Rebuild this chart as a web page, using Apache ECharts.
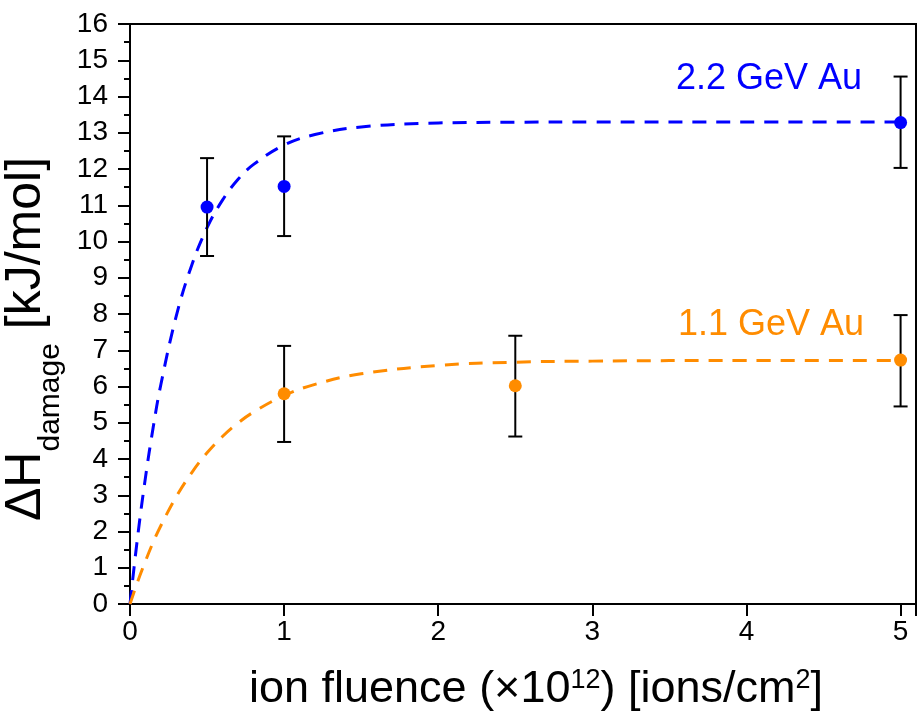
<!DOCTYPE html>
<html>
<head>
<meta charset="utf-8">
<script src="https://cdn.jsdelivr.net/npm/echarts@6/dist/echarts.min.js"></script>
<style>html,body{margin:0;padding:0;background:#fff}#c{width:917px;height:719px}</style>
</head>
<body>
<div id="c"></div>
<script>
// Measured points (x = fluence ×10^12, y = ΔH, err low/high)
const au22X = [0.5, 1, 5];
const au22Y = [10.95, 11.52, 13.28];
const au22Lo = [9.6, 10.15, 12.03];
const au22Hi = [12.3, 12.9, 14.55];

const au11X = [1, 2.5, 5];
const au11Y = [5.8, 6.02, 6.73];
const au11Lo = [4.47, 4.62, 5.45];
const au11Hi = [7.12, 7.4, 7.97];

// Fit curves
const fitX = [0, 0.05, 0.1, 0.15, 0.2, 0.3, 0.4, 0.5, 0.6, 0.7, 0.8, 1.0, 1.2, 1.5, 2, 2.5, 3, 4, 5];
const fit22Y = [0, 1.87, 3.48, 4.86, 6.05, 7.94, 9.34, 10.38, 11.14, 11.71, 12.12, 12.66, 12.95, 13.16, 13.27, 13.29, 13.3, 13.3, 13.3];
const fit11Y = [0, 0.62, 1.18, 1.7, 2.16, 2.96, 3.62, 4.17, 4.62, 4.99, 5.29, 5.75, 6.06, 6.35, 6.58, 6.67, 6.7, 6.72, 6.72];

const labels = ['2.2 GeV Au', '1.1 GeV Au'];
const blue = '#0000FF', orange = '#FF8C00';
const font = 'Liberation Sans, Arial, sans-serif';

const chart = echarts.init(document.getElementById('c'));

function errSeries(xs, lo, hi) {
  return {
    type: 'custom',
    z: 3,
    data: xs.map((x, i) => [x, lo[i], hi[i]]),
    renderItem: function (params, api) {
      const a = api.coord([api.value(0), api.value(1)]);
      const b = api.coord([api.value(0), api.value(2)]);
      const w = 7;
      const st = {stroke: '#000', lineWidth: 2};
      return {type: 'group', children: [
        {type: 'line', shape: {x1: a[0], y1: a[1], x2: b[0], y2: b[1]}, style: st},
        {type: 'line', shape: {x1: a[0]-w, y1: a[1], x2: a[0]+w, y2: a[1]}, style: st},
        {type: 'line', shape: {x1: b[0]-w, y1: b[1], x2: b[0]+w, y2: b[1]}, style: st}
      ]};
    }
  };
}

chart.setOption({
  animation: false,
  textStyle: {fontFamily: font},
  grid: {left: 130, right: 1, top: 24, bottom: 115, containLabel: false, outerBoundsMode: 'none',
         show: true, borderColor: '#000', borderWidth: 2},
  xAxis: {
    type: 'value', min: 0, max: 5.1, interval: 1,
    axisLine: {lineStyle: {color: '#000', width: 2}},
    axisTick: {length: 12, lineStyle: {width: 2, color: '#000'}},
    minorTick: {show: false},
    splitLine: {show: false},
    axisLabel: {fontSize: 28, color: '#000', margin: 14, fontFamily: font,
      formatter: v => (v > 5 ? '' : String(v))},
    name: '{a|ion fluence (×10}{sup|12}{a|) [ions/cm}{sup|2}{a|]}',
    nameLocation: 'middle', nameGap: 63,
    nameTextStyle: {
      padding: [0, 0, 0, 26],
      rich: {
        a: {fontSize: 45, color: '#000', fontFamily: font, verticalAlign: 'top', lineHeight: 45},
        sup: {fontSize: 27, color: '#000', fontFamily: font, verticalAlign: 'top', lineHeight: 27}
      }
    }
  },
  yAxis: {
    type: 'value', min: 0, max: 16, interval: 1,
    axisLine: {lineStyle: {color: '#000', width: 2}},
    axisTick: {length: 12, lineStyle: {width: 2, color: '#000'}},
    minorTick: {show: true, splitNumber: 2, length: 6, lineStyle: {width: 2, color: '#000'}},
    splitLine: {show: false},
    axisLabel: {fontSize: 28, color: '#000', margin: 22, fontFamily: font},
    name: '{a|ΔH}{sub|damage}{a| [kJ/mol]}',
    nameLocation: 'middle', nameRotate: 90, nameGap: 55,
    nameTextStyle: {
      padding: [0, 50, 0, 0],
      rich: {
        a: {fontSize: 50, color: '#000', fontFamily: font, verticalAlign: 'top', lineHeight: 50},
        sub: {fontSize: 30, color: '#000', fontFamily: font, verticalAlign: 'top', lineHeight: 30, padding: [35, 0, 0, 0]}
      }
    }
  },
  graphic: [
    {type: 'text', left: 676, top: 61, style: {text: labels[0], fill: blue, font: '36px ' + font}},
    {type: 'text', left: 678, top: 307, style: {text: labels[1], fill: orange, font: '36px ' + font}}
  ],
  series: [
    {type: 'line', data: fitX.map((x, i) => [x, fit22Y[i]]), smooth: 0.4, showSymbol: false,
     lineStyle: {color: blue, width: 3, type: [14, 10]}, z: 2},
    {type: 'line', data: fitX.map((x, i) => [x, fit11Y[i]]), smooth: 0.4, showSymbol: false,
     lineStyle: {color: orange, width: 3, type: [14, 10]}, z: 2},
    errSeries(au22X, au22Lo, au22Hi),
    errSeries(au11X, au11Lo, au11Hi),
    {type: 'scatter', data: au22X.map((x, i) => [x, au22Y[i]]), symbolSize: 13, itemStyle: {color: blue, opacity: 1}, z: 4},
    {type: 'scatter', data: au11X.map((x, i) => [x, au11Y[i]]), symbolSize: 13, itemStyle: {color: orange, opacity: 1}, z: 4}
  ]
});
</script>
</body>
</html>
